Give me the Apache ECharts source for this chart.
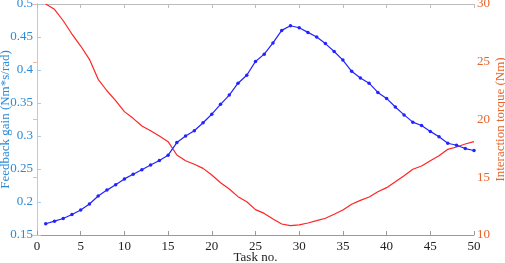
<!DOCTYPE html>
<html>
<head>
<meta charset="utf-8">
<script src="https://cdn.jsdelivr.net/npm/echarts@6/dist/echarts.min.js"></script>
<style>
  html, body { margin: 0; padding: 0; background: #fff; }
  #main { width: 505px; height: 263px; }
</style>
</head>
<body>
<div id="main"></div>
<script>
var myChart = echarts.init(document.getElementById('main'));

// task numbers 1..50
var tasks = [1, 2, 3, 4, 5, 6, 7, 8, 9, 10, 11, 12, 13, 14, 15, 16, 17, 18, 19, 20,
    21, 22, 23, 24, 25, 26, 27, 28, 29, 30, 31, 32, 33, 34, 35, 36, 37, 38, 39, 40,
    41, 42, 43, 44, 45, 46, 47, 48, 49, 50];
// feedback gain (left axis)
var gain = [0.167, 0.171, 0.175, 0.181, 0.188, 0.197, 0.209, 0.218, 0.226, 0.235,
    0.242, 0.249, 0.256, 0.263, 0.271, 0.290, 0.300, 0.308, 0.320, 0.333,
    0.348, 0.362, 0.380, 0.392, 0.413, 0.424, 0.441, 0.460, 0.467, 0.464,
    0.457, 0.450, 0.440, 0.428, 0.415, 0.398, 0.388, 0.380, 0.366, 0.357,
    0.344, 0.332, 0.321, 0.316, 0.307, 0.299, 0.289, 0.286, 0.281, 0.278];
// interaction torque (right axis)
var torque = [30.0, 29.54, 28.55, 27.40, 26.36, 25.21, 23.48, 22.49, 21.63, 20.68,
    20.10, 19.44, 19.03, 18.57, 18.08, 16.93, 16.43, 16.12, 15.77, 15.19,
    14.53, 13.98, 13.32, 12.88, 12.20, 11.87, 11.38, 10.95, 10.81, 10.87,
    11.04, 11.24, 11.45, 11.79, 12.16, 12.66, 13.00, 13.29, 13.75, 14.10,
    14.61, 15.13, 15.69, 15.97, 16.43, 16.87, 17.42, 17.62, 17.88, 18.08];

var font = 'Liberation Serif';
var blueTxt = '#2b8ad6', redTxt = '#e8642a';

function pairs(xs, ys) {
    var res = [];
    for (var i = 0; i < xs.length; i++) res.push([xs[i], ys[i]]);
    return res;
}

option = {
    backgroundColor: '#fff',
    animation: false,
    grid: { left: 37, right: 31, top: 4, bottom: 28, outerBoundsMode: 'none', containLabel: false },
    xAxis: [{
        type: 'value', min: 0, max: 50, interval: 5, position: 'bottom',
        name: 'Task no.', nameLocation: 'middle', nameGap: 16, nameMoveOverlap: false,
        nameTextStyle: { fontFamily: font, fontSize: 13, color: '#222' },
        axisLine: { lineStyle: { color: '#9a9a9a' } },
        axisTick: { inside: true, length: 4, lineStyle: { color: '#9a9a9a' } },
        axisLabel: { fontFamily: font, fontSize: 13, color: '#222', margin: 5 },
        splitLine: { show: false }
    }, {
        type: 'value', min: 0, max: 50, interval: 5, position: 'top',
        axisLine: { lineStyle: { color: '#bdbdbd' } },
        axisTick: { inside: true, length: 4, lineStyle: { color: '#bdbdbd' } },
        axisLabel: { show: false },
        splitLine: { show: false }
    }],
    yAxis: [{
        type: 'value', min: 0.15, max: 0.5, interval: 0.05, position: 'left',
        name: 'Feedback gain (Nm*s/rad)', nameLocation: 'middle', nameGap: 25,
        nameMoveOverlap: false,
        nameTextStyle: { fontFamily: font, fontSize: 13, color: blueTxt },
        axisLine: { show: true, lineStyle: { color: '#a6cdee' } },
        axisTick: { show: true, inside: true, length: 4, lineStyle: { color: '#a6cdee' } },
        axisLabel: {
            fontFamily: font, fontSize: 13, color: blueTxt, margin: 4,
            formatter: function (v) { return String(parseFloat(v.toFixed(2))); }
        },
        splitLine: { show: false }
    }, {
        type: 'value', min: 10, max: 30, interval: 5, position: 'right',
        name: 'Interaction torque (Nm)', nameLocation: 'middle', nameGap: 20,
        nameRotate: 90, nameMoveOverlap: false,
        nameTextStyle: { fontFamily: font, fontSize: 13, color: redTxt },
        axisLine: { show: true, lineStyle: { color: '#f6b9a0' } },
        axisTick: { show: true, inside: true, length: 4, lineStyle: { color: '#f6b9a0' } },
        axisLabel: { fontFamily: font, fontSize: 13, color: redTxt, margin: 3 },
        splitLine: { show: false }
    }],
    series: [{
        name: 'gain', type: 'line', xAxisIndex: 0, yAxisIndex: 0,
        data: pairs(tasks, gain),
        symbol: 'circle', symbolSize: 3.5,
        lineStyle: { color: '#2323ff', width: 1.2 },
        itemStyle: { color: '#2323ff' },
        z: 3
    }, {
        name: 'torque', type: 'line', xAxisIndex: 0, yAxisIndex: 1,
        data: pairs(tasks, torque),
        showSymbol: false, symbol: 'none',
        lineStyle: { color: '#ff2424', width: 1.2 },
        z: 2
    }]
};
myChart.setOption(option);
</script>
</body>
</html>
